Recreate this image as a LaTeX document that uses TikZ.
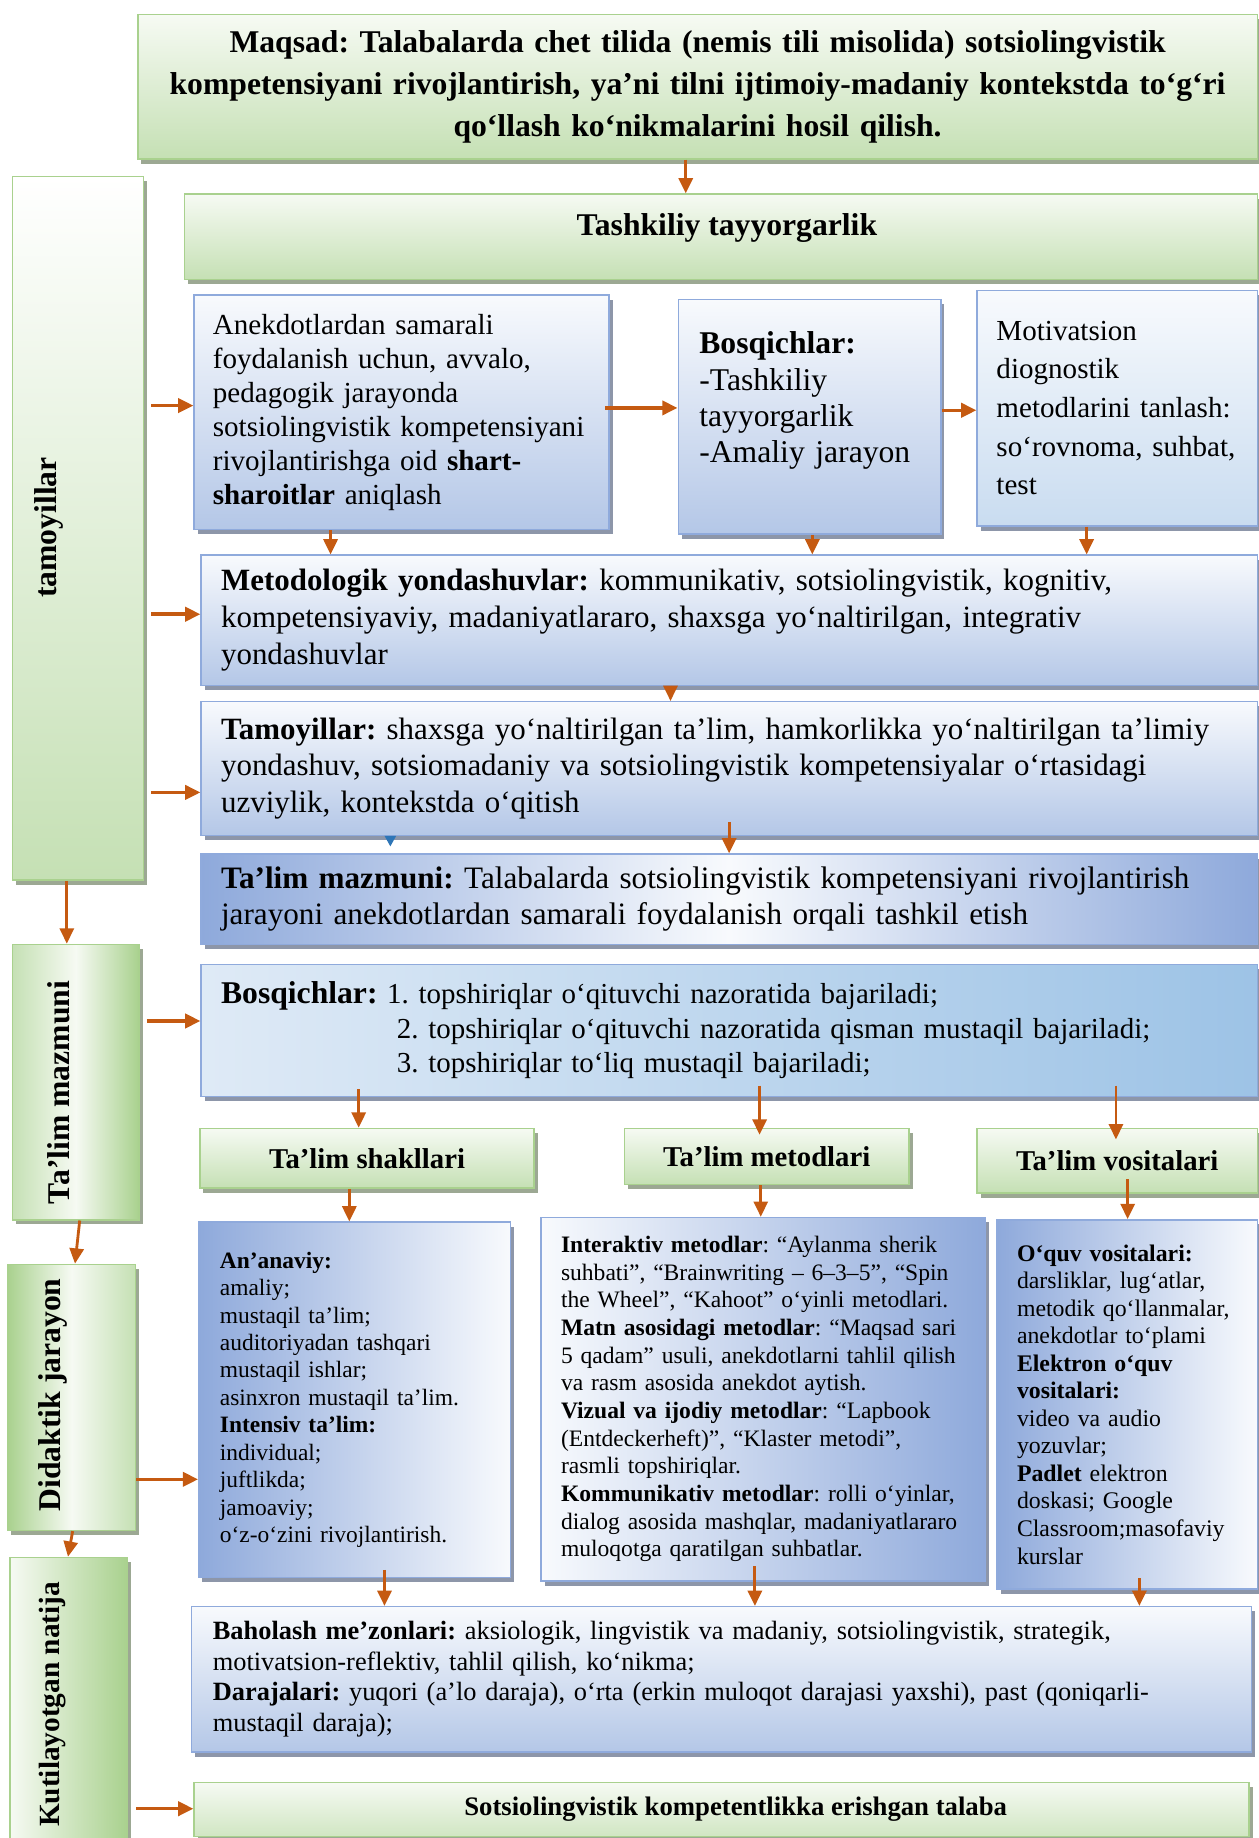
\documentclass[tikz,border=0pt]{standalone}
\usepackage{fontspec}
\setmainfont{Liberation Serif}
\usepackage{tikz}
\usetikzlibrary{shadows,arrows.meta}
\frenchspacing

\definecolor{arrowc}{HTML}{C55A11}
\definecolor{gline}{HTML}{A9D18E}
\definecolor{gtop}{HTML}{F6FAF3}
\definecolor{gbot}{HTML}{C5E0B4}
\definecolor{gdeep}{HTML}{A9D18E}
\definecolor{gshad}{HTML}{9CA893}
\definecolor{bline}{HTML}{8FAADC}
\definecolor{btop}{HTML}{F8FAFD}
\definecolor{bbot}{HTML}{B4C7E7}
\definecolor{bdeep}{HTML}{8EA9DB}
\definecolor{bshad}{HTML}{8D96A9}
\definecolor{lblue}{HTML}{C9DCF0}
\definecolor{sky}{HTML}{9DC3E6}
\definecolor{bluetri}{HTML}{2E75B6}

\tikzset{
  gbox/.style={draw=gline,line width=1.2pt,top color=gtop,bottom color=gbot,inner sep=0pt,anchor=north west,
    general shadow={fill=gshad,shadow xshift=3pt,shadow yshift=-4pt}},
  bbox/.style={draw=bline,line width=1.2pt,top color=btop,bottom color=bbot,inner sep=0pt,anchor=north west,align=left,
    general shadow={fill=bshad,shadow xshift=3pt,shadow yshift=-4pt}},
  arr/.style={draw=arrowc,line width=2.4pt,->},
  harr/.style={draw=arrowc,line width=3pt,->},
  vlab/.style={rotate=90,font=\bfseries\fontsize{27}{30}\selectfont},
  head/.style={font=\bfseries\fontsize{24.5}{28}\selectfont}
}

\begin{document}
\begin{tikzpicture}[x=1pt,y=-1pt,>={Triangle[length=13pt,width=12pt]}]
\useasboundingbox (0,0) rectangle (1074,1568);

\node[gbox,minimum width=955pt,minimum height=123pt,text width=935pt,align=center,font=\bfseries\fontsize{27}{36}\selectfont] (maqsad) at (117,12)
  {Maqsad: Talabalarda chet tilida (nemis tili misolida) sotsiolingvistik\\ kompetensiyani rivojlantirish, ya’ni tilni ijtimoiy-madaniy kontekstda to‘g‘ri\\ qo‘llash ko‘nikmalarini hosil qilish.};
\node[gbox,minimum width=915pt,minimum height=73pt,text height=20pt,text depth=22pt,font=\bfseries\fontsize{27}{30}\selectfont] (tash) at (157,165) {\hspace*{10pt}Tashkiliy tayyorgarlik};

\node[gbox,top color=white,bottom color=gbot,minimum width=112pt,minimum height=600pt] (tam) at (10,150) {};
\node[vlab] (tamt) at (42,450) {tamoyillar};
\node[gbox,left color=gbot,right color=gdeep,middle color=gtop,minimum width=108pt,minimum height=235pt] (lmaz) at (10,805) {};
\node[vlab] (lmazt) at (50,932) {Ta’lim mazmuni};
\node[gbox,left color=gdeep,right color=gbot,middle color=gtop,minimum width=109pt,minimum height=227pt] (ldid) at (6,1078) {};
\node[vlab] (ldidt) at (45,1190) {Didaktik jarayon};
\node[gbox,left color=gtop,right color=gdeep,minimum width=100pt,minimum height=250pt] (lkut) at (8,1328) {};
\node[vlab,font=\bfseries\fontsize{25}{30}\selectfont] (lkutt) at (45,1454) {Kutilayotgan natija};

\node[bbox,minimum width=354pt,minimum height=200pt,text width=322pt,font=\fontsize{24.8}{29}\selectfont] (anek) at (165,251)
  {Anekdotlardan samarali\\ foydalanish uchun, avvalo,\\ pedagogik jarayonda\\ sotsiolingvistik kompetensiyani\\ rivojlantirishga oid \textbf{shart-}\\ \textbf{sharoitlar} aniqlash};
\node[bbox,minimum width=224pt,minimum height=200pt,text width=188pt,font=\fontsize{27}{31}\selectfont] (bosq) at (578,255)
  {\textbf{Bosqichlar:}\\ -Tashkiliy\\ tayyorgarlik\\ -Amaliy jarayon\\[2pt] \mbox{}};
\node[bbox,top color=btop,bottom color=lblue,minimum width=239pt,minimum height=201pt,text width=206pt,font=\fontsize{24.8}{33}\selectfont] (motiv) at (833,247)
  {Motivatsion\\ diognostik\\ metodlarini tanlash:\\ so‘rovnoma, suhbat,\\ test};

\node[bbox,minimum width=901pt,minimum height=111pt,text width=867pt,font=\fontsize{26.4}{31.5}\selectfont] (metod) at (171,473)
  {\textbf{Metodologik yondashuvlar:} kommunikativ, sotsiolingvistik, kognitiv,\\ kompetensiyaviy, madaniyatlararo, shaxsga yo‘naltirilgan, integrativ\\ yondashuvlar};
\node[bbox,minimum width=901pt,minimum height=114pt,text width=867pt,font=\fontsize{26.4}{31}\selectfont] (tamoy) at (171,598)
  {\textbf{Tamoyillar:} shaxsga yo‘naltirilgan ta’lim, hamkorlikka yo‘naltirilgan ta’limiy\\ yondashuv, sotsiomadaniy va sotsiolingvistik kompetensiyalar o‘rtasidagi\\ uzviylik, kontekstda o‘qitish};
\node[bbox,left color=bdeep,right color=bdeep,middle color=btop,minimum width=901pt,minimum height=77pt,text width=867pt,font=\fontsize{26.6}{31}\selectfont] (mazm) at (171,728)
  {\textbf{Ta’lim mazmuni:} Talabalarda sotsiolingvistik kompetensiyani rivojlantirish\\ jarayoni anekdotlardan samarali foydalanish orqali tashkil etish};
\node[bbox,left color=lblue!60,right color=sky,minimum width=901pt,minimum height=113pt,text width=867pt,font=\fontsize{24.7}{29.5}\selectfont] (bosqb) at (171,822)
  {{\bfseries\fontsize{27}{29.5}\selectfont Bosqichlar:} 1. topshiriqlar o‘qituvchi nazoratida bajariladi;\\
   \hspace*{150pt}2. topshiriqlar o‘qituvchi nazoratida qisman mustaqil bajariladi;\\
   \hspace*{150pt}3. topshiriqlar to‘liq mustaqil bajariladi;};

\node[gbox,head,minimum width=285pt,minimum height=51pt] (shak) at (170,962) {Ta’lim shakllari};
\node[gbox,head,minimum width=243pt,minimum height=48pt] (metl) at (532,962) {Ta’lim metodlari};
\node[gbox,head,minimum width=239pt,minimum height=55pt] (vosl) at (833,962) {Ta’lim vositalari};

\node[bbox,left color=bdeep,right color=btop,minimum width=266pt,minimum height=303pt,text width=230pt,font=\fontsize{20}{23.4}\selectfont] (anan) at (169,1042)
  {\textbf{An’anaviy:}\\ amaliy;\\ mustaqil ta’lim;\\ auditoriyadan tashqari\\ mustaqil ishlar;\\ asinxron mustaqil ta’lim.\\ \textbf{Intensiv ta’lim:}\\ individual;\\ juftlikda;\\ jamoaviy;\\ o‘z-o‘zini rivojlantirish.};
\node[bbox,left color=btop,right color=bdeep,minimum width=379pt,minimum height=310pt,text width=345pt,font=\fontsize{20.1}{23.6}\selectfont] (metb) at (461,1038)
  {\textbf{Interaktiv metodlar}: “Aylanma sherik\\ suhbati”, “Brainwriting – 6–3–5”, “Spin\\ the Wheel”, “Kahoot” o‘yinli metodlari.\\
   \textbf{Matn asosidagi metodlar}: “Maqsad sari\\ 5 qadam” usuli, anekdotlarni tahlil qilish\\ va rasm asosida anekdot aytish.\\
   \textbf{Vizual va ijodiy metodlar}: “Lapbook\\ (Entdeckerheft)”, “Klaster metodi”,\\ rasmli topshiriqlar.\\
   \textbf{Kommunikativ metodlar}: rolli o‘yinlar,\\ dialog asosida mashqlar, madaniyatlararo\\ muloqotga qaratilgan suhbatlar.};
\node[bbox,left color=bdeep,right color=btop,minimum width=222pt,minimum height=315pt,text width=188pt,font=\fontsize{20.3}{23.5}\selectfont] (vosb) at (850,1040)
  {\textbf{O‘quv vositalari:}\\ darsliklar, lug‘atlar,\\ metodik qo‘llanmalar,\\ anekdotlar to‘plami\\ \textbf{Elektron o‘quv}\\ \textbf{vositalari:}\\ video va audio\\ yozuvlar;\\ \textbf{Padlet} elektron\\ doskasi; Google\\ Classroom;masofaviy\\ kurslar};

\node[bbox,minimum width=904pt,minimum height=124pt,text width=868pt,font=\fontsize{22.5}{26}\selectfont] (bahol) at (163,1370)
  {\textbf{Baholash me’zonlari:} aksiologik, lingvistik va madaniy, sotsiolingvistik, strategik,\\ motivatsion-reflektiv, tahlil qilish, ko‘nikma;\\
   \textbf{Darajalari:} yuqori (a’lo daraja), o‘rta (erkin muloqot darajasi yaxshi), past (qoniqarli-\\ mustaqil daraja);};
\node[gbox,top color=gtop,bottom color=gbot!80,minimum width=900pt,minimum height=46pt,font=\bfseries\fontsize{22.8}{26}\selectfont] (final) at (165,1520)
  {\hspace*{24pt}Sotsiolingvistik kompetentlikka erishgan talaba};

\draw[arr] (maqsad.south -| 585,0) -- (tash.north -| 585,0);
\draw[arr] (tam.south -| 57,0) -- (lmaz.north -| 57,0);
\draw[arr] (lmaz.south -| 68,0) -- (ldid.north -| 64,0);
\draw[arr] (ldid.south -| 62,0) -- (lkut.north -| 58,0);
\draw[arr] (anek.south -| 282,0) -- (metod.north -| 282,0);
\draw[arr] (bosq.south -| 693,0) -- (metod.north -| 693,0);
\draw[arr] (motiv.south -| 927,0) -- (metod.north -| 927,0);
\draw[arr] (metod.south -| 572,0) -- (tamoy.north -| 572,0);
\draw[arr] (tamoy.south -| 622,0) ++(0,-12) -- (mazm.north -| 622,0);
\draw[arr] (bosqb.south -| 306,0) ++(0,-7) -- (shak.north -| 306,0);
\draw[arr] (bosqb.south -| 648,0) ++(0,-10) -- ([yshift=-6pt]metl.north -| 648,0);
\draw[arr] (bosqb.south -| 952,0) ++(0,-10) -- ([yshift=-10pt]vosl.north -| 952,0);
\draw[arr] (shak.south -| 298,0) -- (anan.north -| 298,0);
\draw[arr] (metl.south -| 649,0) -- (metb.north -| 649,0);
\draw[arr] (vosl.south -| 962,0) ++(0,-12) -- (vosb.north -| 962,0);
\draw[arr] (anan.south -| 328,0) ++(0,-7) -- (bahol.north -| 328,0);
\draw[arr] (metb.south -| 644,0) ++(0,-13) -- (bahol.north -| 644,0);
\draw[arr] (vosb.south -| 972,0) ++(0,-10) -- (bahol.north -| 972,0);

\draw[harr] (tam.east |- 0,346) ++(6,0) -- (anek.west |- 0,346);
\draw[harr] (anek.east |- 0,348) ++(-4,0) -- (bosq.west |- 0,348);
\draw[harr] (bosq.east |- 0,350) -- (motiv.west |- 0,350);
\draw[harr] (tam.east |- 0,524) ++(6,0) -- (metod.west |- 0,524);
\draw[harr] (tam.east |- 0,676) ++(6,0) -- (tamoy.west |- 0,676);
\draw[harr] (lmaz.east |- 0,871) ++(6,0) -- (bosqb.west |- 0,871);
\draw[harr] (ldid.east |- 0,1262) -- (anan.west |- 0,1262);
\draw[harr] (lkut.east |- 0,1543) ++(7,0) -- (final.west |- 0,1543);

\fill[bluetri] (328,713) -- (338,713) -- (333,722) -- cycle;
\end{tikzpicture}
\end{document}
